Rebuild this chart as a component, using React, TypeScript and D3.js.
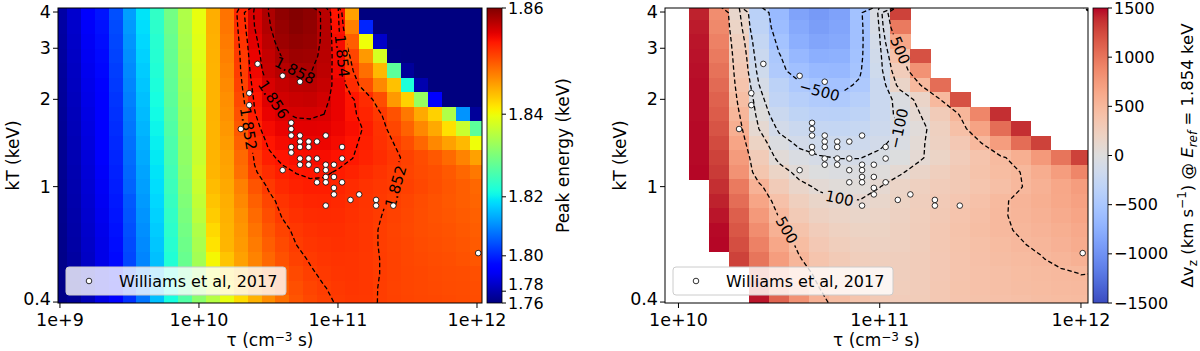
import * as d3 from 'd3'

// model grid: log10(tau / cm^-3 s) columns, log10(kT / keV) rows (top row first)
const logTau = [
  9.0, 9.1, 9.2, 9.3, 9.4, 9.5, 9.6, 9.7, 9.8, 9.9, 10.0, 10.1, 10.2, 10.3, 10.4, 10.5,
  10.6, 10.7, 10.8, 10.9, 11.0, 11.1, 11.2, 11.3, 11.4, 11.5, 11.6, 11.7, 11.8, 11.9, 12.0,
]
const logKT = [
  0.6, 0.55, 0.5, 0.45, 0.4, 0.35, 0.3, 0.25, 0.2, 0.15, 0.1, 0.05, 0, -0.05, -0.1, -0.15,
  -0.2, -0.25, -0.3, -0.35, -0.4,
]

// peak energy of the line in eV (1760 = at or below the bottom of the scale)
const peakEv = [
  [1778, 1786, 1793, 1798, 1805, 1813, 1819, 1824, 1830, 1835, 1839.5, 1845.2, 1848.8, 1853.2, 1856.2, 1858, 1859.3, 1859.8, 1859.4, 1857.5, 1854.3, 1846, 1760, 1760, 1760, 1760, 1760, 1760, 1760, 1760, 1760],
  [1777.5, 1785.5, 1792.5, 1797.5, 1804.5, 1812.5, 1818.5, 1823.5, 1829.5, 1834.8, 1839.3, 1845.1, 1848.6, 1852.9, 1856, 1857.8, 1859, 1859.6, 1859.2, 1857.6, 1854.5, 1848, 1800, 1760, 1760, 1760, 1760, 1760, 1760, 1760, 1760],
  [1777, 1785, 1792, 1797, 1804, 1812, 1818, 1823, 1829, 1834.5, 1839, 1845, 1848.3, 1852.5, 1855.6, 1857.4, 1858.7, 1859.2, 1859, 1857.6, 1854.7, 1850, 1840, 1785, 1760, 1760, 1760, 1760, 1760, 1760, 1760],
  [1776.5, 1784.5, 1791.5, 1796.5, 1803.5, 1811.5, 1817.5, 1822.8, 1828.8, 1834.3, 1838.8, 1844.95, 1848, 1852.2, 1855.3, 1857, 1858.1, 1858.7, 1858.6, 1857.5, 1854.9, 1851.5, 1846.5, 1838, 1765, 1760, 1760, 1760, 1760, 1760, 1760],
  [1776, 1784, 1791, 1796, 1803, 1811, 1817, 1822.5, 1828.5, 1834, 1838.5, 1844.9, 1847.7, 1852, 1855, 1856.8, 1857.6, 1858.05, 1858.1, 1857.3, 1855, 1852.3, 1849, 1844.5, 1828, 1775, 1760, 1760, 1760, 1760, 1760],
  [1775.5, 1783.5, 1790.5, 1795.5, 1802.5, 1810.5, 1816.5, 1822, 1828.2, 1833.8, 1838.3, 1844.85, 1847.4, 1851.7, 1854.6, 1856.1, 1856.9, 1857.35, 1857.45, 1856.9, 1855.3, 1853, 1851, 1847.5, 1844, 1822, 1780, 1760, 1760, 1760, 1760],
  [1775, 1783, 1790, 1795, 1802, 1810, 1816, 1821.5, 1828, 1833.5, 1838, 1844.85, 1847.1, 1851.3, 1854.2, 1855.8, 1856.4, 1856.75, 1856.85, 1856.4, 1855.3, 1854.2, 1853, 1851, 1846.5, 1843, 1833, 1795, 1760, 1760, 1760],
  [1774.5, 1782.5, 1789.5, 1794.5, 1801.5, 1809.5, 1815.5, 1821, 1827.5, 1833.2, 1837.7, 1844.85, 1846.9, 1850.8, 1853.9, 1855.3, 1855.9, 1856.15, 1856.2, 1856, 1855.3, 1854.3, 1853.4, 1852.2, 1850.8, 1848.5, 1845.5, 1843, 1835, 1812, 1775],
  [1774, 1782, 1789, 1794, 1801, 1809, 1815, 1820.5, 1827, 1833, 1837.5, 1844.8, 1846.6, 1850.4, 1853.4, 1854.8, 1855.3, 1855.55, 1855.6, 1855.5, 1855.1, 1854.6, 1853.8, 1852.6, 1851.4, 1849.8, 1847.5, 1845.5, 1842, 1837, 1828],
  [1773.5, 1781.5, 1788.5, 1793.5, 1800.5, 1808.5, 1814.5, 1820, 1826.5, 1832.7, 1837.3, 1844.8, 1846.3, 1849.9, 1852.8, 1854.2, 1854.8, 1855, 1855.1, 1855.1, 1854.8, 1854.3, 1853.6, 1852.7, 1852, 1851, 1849.5, 1847.5, 1846, 1844.5, 1840],
  [1773, 1781, 1788, 1793, 1800, 1808, 1814, 1819.5, 1826, 1832.5, 1837, 1844.8, 1846, 1849.4, 1852.2, 1853.7, 1854.3, 1854.55, 1854.65, 1854.65, 1854.4, 1854.05, 1853.5, 1852.9, 1852.3, 1851.7, 1851.1, 1850.4, 1849.3, 1847.8, 1846],
  [1772.5, 1780.5, 1787.5, 1792.5, 1799.5, 1807.5, 1813.5, 1819, 1825.5, 1832, 1837.5, 1844.75, 1845.8, 1849, 1851.8, 1852.9, 1853.7, 1854.05, 1854.2, 1854.15, 1853.9, 1853.5, 1853, 1852.5, 1852.05, 1851.6, 1851.2, 1850.9, 1850.3, 1849.5, 1848.5],
  [1772, 1780, 1787, 1792, 1799, 1807, 1813, 1818.5, 1825, 1831.5, 1837, 1844.3, 1845.5, 1848, 1850.6, 1852.2, 1853.1, 1853.55, 1853.75, 1853.75, 1853.4, 1852.95, 1852.6, 1852.3, 1852.05, 1851.75, 1851.35, 1850.95, 1850.5, 1850, 1849.5],
  [1771.5, 1779.5, 1786.5, 1791.5, 1798.5, 1806, 1812.5, 1818, 1824.5, 1831, 1836.5, 1843.8, 1845.2, 1847.5, 1849.9, 1851.5, 1852.5, 1853.05, 1853.3, 1853.35, 1853.15, 1852.8, 1852.45, 1852.15, 1851.85, 1851.5, 1851.05, 1850.7, 1850.4, 1850.05, 1849.7],
  [1771, 1779, 1786, 1791, 1798, 1805.5, 1812, 1817.5, 1824, 1830.5, 1836, 1843.3, 1845, 1847, 1849.3, 1851, 1852.1, 1852.7, 1852.95, 1853.05, 1852.95, 1852.7, 1852.4, 1852.05, 1851.7, 1851.35, 1851, 1850.75, 1850.5, 1850.2, 1849.9],
  [1770.5, 1778.5, 1785.5, 1790.5, 1797.5, 1805, 1811.5, 1817, 1823.5, 1830, 1835, 1842.5, 1844.8, 1846.7, 1848.8, 1850.5, 1851.6, 1852.3, 1852.65, 1852.8, 1852.8, 1852.6, 1852.35, 1851.95, 1851.6, 1851.3, 1851, 1850.85, 1850.65, 1850.4, 1850.1],
  [1770, 1778, 1785, 1790, 1797, 1804.5, 1811, 1816.5, 1823, 1829.5, 1834.5, 1841.8, 1844.75, 1846.4, 1848.3, 1850, 1851.2, 1852, 1852.4, 1852.6, 1852.7, 1852.6, 1852.35, 1851.95, 1851.65, 1851.4, 1851.15, 1850.95, 1850.8, 1850.55, 1850.25],
  [1769.5, 1777, 1784.5, 1790, 1796.5, 1804, 1810.5, 1816, 1822.5, 1829, 1834, 1840.5, 1843.8, 1846, 1847.8, 1849.5, 1850.8, 1851.7, 1852.1, 1852.4, 1852.5, 1852.45, 1852.3, 1852, 1851.7, 1851.45, 1851.25, 1851.1, 1850.95, 1850.75, 1850.5],
  [1769, 1776.5, 1784, 1789.5, 1796, 1803.5, 1810, 1815.5, 1822, 1828.5, 1833.5, 1839.5, 1842.5, 1844.5, 1847.2, 1849, 1850.3, 1851.25, 1851.85, 1852.2, 1852.4, 1852.45, 1852.3, 1852, 1851.7, 1851.5, 1851.35, 1851.2, 1851.1, 1851, 1850.9],
  [1768.5, 1775.5, 1783, 1789.5, 1795.5, 1802.5, 1809.5, 1815.5, 1821.7, 1828, 1833, 1838, 1841.5, 1844, 1846.6, 1848.5, 1849.9, 1850.9, 1851.55, 1851.95, 1852.25, 1852.4, 1852.3, 1851.95, 1851.65, 1851.5, 1851.35, 1851.25, 1851.15, 1851.05, 1851],
  [1768, 1774, 1782, 1789.5, 1795.5, 1801.5, 1809, 1816, 1821.5, 1827, 1832, 1835.5, 1839.5, 1842.3, 1845, 1847.2, 1849, 1850.6, 1851.3, 1851.75, 1852.1, 1852.3, 1852.25, 1851.95, 1851.7, 1851.55, 1851.45, 1851.35, 1851.25, 1851.15, 1851.1],
]

// Williams et al, 2017 remnants
const williamsTau = [
  2.64e10, 4.0e10, 5.33e10, 2.3e10, 2.3e10, 2.0e10, 4.61e10, 4.61e10, 4.61e10, 5.33e10, 5.33e10,
  6.15e10, 7.06e10, 8.17e10, 4.61e10, 5.33e10, 6.15e10, 4.61e10, 1.07e11, 5.33e10, 6.15e10,
  7.06e10, 1.07e11, 5.33e10, 6.15e10, 8.17e10, 9.35e10, 4.0e10, 7.06e10, 8.17e10, 8.17e10,
  9.35e10, 7.06e10, 8.17e10, 1.07e11, 9.35e10, 9.35e10, 1.42e11, 1.23e11, 1.88e11, 1.88e11,
  2.5e11, 8.17e10, 1.02e12,
]
const williamsKT = [
  2.65, 2.41, 2.3, 2.1, 1.91, 1.58, 1.66, 1.58, 1.5, 1.5, 1.43, 1.43, 1.43, 1.5, 1.37, 1.37,
  1.37, 1.31, 1.37, 1.25, 1.25, 1.25, 1.25, 1.19, 1.19, 1.19, 1.19, 1.14, 1.14, 1.14, 1.08,
  1.08, 1.035, 1.035, 1.035, 0.99, 0.94, 0.94, 0.9, 0.9, 0.86, 0.86, 0.86, 0.59,
]

const refEnergy = 1.854
const energyLevels = [1.852, 1.854, 1.856, 1.858]
const velocityLevels = [-500, -100, 100, 500]

const energyLabelLevel = [1.858, 1.856, 1.854, 1.852, 1.852]
const energyLabelTau = [4.67e10, 3.7e10, 1.07e11, 2.25e10, 2.7e11]
const energyLabelKT = [2.58, 1.94, 2.89, 1.53, 1.03]

const velocityLabelLevel = [-500, -100, 100, 500, 500]
const velocityLabelTau = [5.25e10, 1.32e11, 5.69e10, 1.24e11, 3.47e10]
const velocityLabelKT = [2.12, 1.66, 0.9, 2.96, 0.68]

const tauTicksLeft = [1e9, 1e10, 1e11, 1e12]
const tauTicksRight = [1e10, 1e11, 1e12]
const kTTicks = [0.4, 1, 2, 3, 4]
const energyTicks = [1.76, 1.78, 1.8, 1.82, 1.84, 1.86]
const velocityTicks = [-1500, -1000, -500, 0, 500, 1000, 1500]

const coolwarmStops = [
  '#3b4cc0', '#445acc', '#4d68d7', '#5775e1', '#6282ea', '#6c8ef1', '#779af7', '#82a5fb',
  '#8db0fe', '#98b9ff', '#a3c2ff', '#aec9fd', '#b8d0f9', '#c2d5f4', '#ccd9ee', '#d5dbe6',
  '#dddddd', '#e5d8d1', '#ecd3c5', '#f1ccb9', '#f5c4ad', '#f7bba0', '#f7b194', '#f7a687',
  '#f49a7b', '#f18d6f', '#ec7f63', '#e57058', '#de604d', '#d55042', '#cb3e38', '#c0282f',
  '#b40426',
]

const FONT = 'DejaVu Sans'
const TOP = 8
const BOTTOM = 303
const C_KMS = 299792.458
const E_MIN = 1.76
const E_MAX = 1.86
const V_MAX = 1500

const nx = logTau.length
const ny = logKT.length
const du = logTau[1] - logTau[0]
const dw = logKT[0] - logKT[1]

const energyGrid = peakEv.flat().map((v) => v / 1000)
const velocityGrid = energyGrid.map((e) => (C_KMS * (refEnergy - e)) / refEnergy)

const y = d3.scaleLog().domain([0.397, 4.13]).range([BOTTOM, TOP])
const xLeft = d3.scaleLog().domain([10 ** 8.986, 10 ** 12.036]).range([58, 482])
const xRight = d3.scaleLog().domain([10 ** 9.933, 10 ** 12.035]).range([665, 1088])

const jetR = d3.scaleLinear().domain([0, 0.35, 0.66, 0.89, 1]).range([0, 0, 1, 1, 0.5]).clamp(true)
const jetG = d3.scaleLinear().domain([0, 0.125, 0.375, 0.64, 0.91, 1]).range([0, 0, 1, 1, 0, 0]).clamp(true)
const jetB = d3.scaleLinear().domain([0, 0.11, 0.34, 0.65, 1]).range([0.5, 1, 1, 0, 0]).clamp(true)
const jet = (t: number) => d3.rgb(jetR(t) * 255, jetG(t) * 255, jetB(t) * 255).formatHex()
const powerNorm = (e: number) => Math.pow(Math.min(1, Math.max(0, (e - E_MIN) / (E_MAX - E_MIN))), 2)

const coolwarm = d3
  .scaleLinear<string>()
  .domain(coolwarmStops.map((_, i) => i / (coolwarmStops.length - 1)))
  .range(coolwarmStops)
  .interpolate(d3.interpolateRgb)
  .clamp(true)
const velocityNorm = d3.scaleLinear().domain([-V_MAX, V_MAX]).range([0, 1])

const charW: Record<string, number> = {
  '0': 0.636, '1': 0.636, '2': 0.636, '3': 0.636, '4': 0.636, '5': 0.636, '6': 0.636,
  '7': 0.636, '8': 0.636, '9': 0.636, '.': 0.318, '\u2212': 0.838,
}
const textWidth = (s: string, size: number) => [...s].reduce((a, ch) => a + (charW[ch] ?? 0.6), 0) * size

const minus = (v: number) => (v < 0 ? '\u2212' + Math.abs(v) : String(v))

type Pt = [number, number]

function toPixel(x: any, c: number, r: number): Pt {
  return [x(10 ** (logTau[0] + (c - 0.5) * du)), y(10 ** (logKT[0] - (r - 0.5) * dw))]
}

function buildContours(grid: number[], levels: number[], x: any) {
  return d3
    .contours()
    .size([nx, ny])
    .thresholds(levels)(grid)
    .map((c) => ({
      value: c.value,
      rings: c.coordinates.flatMap((poly) =>
        poly.map((ring) => ring.map(([cc, rr]) => toPixel(x, cc, rr)))
      ) as Pt[][],
    }))
}

function labelSpot(rings: Pt[][], px: number, py: number) {
  let best: Pt[] = rings[0]
  let bi = 0
  let bd = Infinity
  rings.forEach((ring) =>
    ring.forEach((p, i) => {
      const d = (p[0] - px) ** 2 + (p[1] - py) ** 2
      if (d < bd) {
        bd = d
        best = ring
        bi = i
      }
    })
  )
  const n = best.length
  const walk = (dir: number) => {
    let k = bi
    let dist = 0
    for (let s = 0; s < n && dist < 9; s++) {
      const nk = (k + dir + n) % n
      dist += Math.hypot(best[nk][0] - best[k][0], best[nk][1] - best[k][1])
      k = nk
    }
    return best[k]
  }
  const a = walk(-1)
  const b = walk(1)
  let ang = (Math.atan2(b[1] - a[1], b[0] - a[0]) * 180) / Math.PI
  if (ang > 90) ang -= 180
  if (ang < -90) ang += 180
  return { x: best[bi][0], y: best[bi][1], ang }
}

function cellRects(x: any, colorOf: (k: number) => string | null) {
  const out: any[] = []
  for (let j = 0; j < ny; j++) {
    for (let i = 0; i < nx; i++) {
      const k = j * nx + i
      const fill = colorOf(k)
      if (!fill) continue
      const xa = x(10 ** (logTau[i] - du / 2))
      const xb = x(10 ** (logTau[i] + du / 2))
      const ya = y(10 ** (logKT[j] + dw / 2))
      const yb = y(10 ** (logKT[j] - dw / 2))
      out.push(<rect key={k} x={xa} y={ya} width={xb - xa + 0.6} height={yb - ya + 0.6} fill={fill} />)
    }
  }
  return out
}

// keep stacked colorbar labels from running into each other (bottom label stays on its tick)
function spreadLabels(ys: number[], gap: number) {
  const out = ys.slice()
  for (let i = 1; i < out.length; i++) out[i] = Math.min(out[i], out[i - 1] - gap)
  return out
}

function Panel(props: any) {
  const { id, x, tauTicks, cells, contours, labels } = props
  const [x0, x1] = x.range()
  const labelSize = 15
  return (
    <g>
      <defs>
        <clipPath id={`clip-${id}`}>
          <rect x={x0} y={TOP} width={x1 - x0} height={BOTTOM - TOP} />
        </clipPath>
        <mask id={`mask-${id}`} maskUnits="userSpaceOnUse" x={0} y={0} width={1200} height={351}>
          <rect x={0} y={0} width={1200} height={351} fill="#fff" />
          {labels.map((l: any, i: number) => {
            const w = textWidth(l.text, labelSize) + 6
            return (
              <rect
                key={i}
                x={-w / 2}
                y={-7}
                width={w}
                height={14}
                fill="#000"
                transform={`translate(${l.x},${l.y}) rotate(${l.ang})`}
              />
            )
          })}
        </mask>
      </defs>
      <g clipPath={`url(#clip-${id})`} shapeRendering="crispEdges">
        {cells}
      </g>
      <g clipPath={`url(#clip-${id})`}>
        <g mask={`url(#mask-${id})`}>
          {contours.map((c: any, i: number) => (
            <path
              key={i}
              d={c.rings.map((r: Pt[]) => 'M' + r.map((p) => p.join(',')).join('L') + 'Z').join('')}
              fill="none"
              stroke="#000"
              strokeWidth={1.3}
              strokeDasharray="4.5 2.6"
            />
          ))}
        </g>
      </g>
      {labels.map((l: any, i: number) => (
        <text
          key={i}
          transform={`translate(${l.x},${l.y}) rotate(${l.ang})`}
          textAnchor="middle"
          dominantBaseline="central"
          fontSize={labelSize}
          fill="#000"
        >
          {l.text}
        </text>
      ))}
      {williamsTau.map((t, i) => (
        <circle key={i} cx={x(t)} cy={y(williamsKT[i])} r={2.8} fill="#fff" stroke="#000" strokeWidth={0.8} />
      ))}
      <g>
        <rect
          x={x0 + 8}
          y={BOTTOM - 36}
          width={220}
          height={28}
          rx={3}
          fill="#fff"
          fillOpacity={0.8}
          stroke="#ccc"
          strokeWidth={1}
        />
        <circle cx={x0 + 31} cy={BOTTOM - 22} r={2.8} fill="#fff" stroke="#000" strokeWidth={0.8} />
        <text x={x0 + 61} y={BOTTOM - 22} dominantBaseline="central" fontSize={16}>
          Williams et al, 2017
        </text>
      </g>
      <rect x={x0} y={TOP} width={x1 - x0} height={BOTTOM - TOP} fill="none" stroke="#000" strokeWidth={1} />
      {tauTicks.map((t: number) => (
        <g key={t}>
          <line x1={x(t)} x2={x(t)} y1={BOTTOM} y2={BOTTOM + 5} stroke="#000" />
          <text x={x(t)} y={BOTTOM + 22.5} textAnchor="middle" fontSize={17.5}>
            {'1e+' + Math.round(Math.log10(t))}
          </text>
        </g>
      ))}
      {kTTicks.map((k, i) => (
        <g key={k}>
          <line x1={x0 - 5} x2={x0} y1={y(k)} y2={y(k)} stroke="#000" />
          <text
            x={x0 - 7}
            y={i === 0 ? y(k) - 3.5 : y(k)}
            textAnchor="end"
            dominantBaseline="central"
            fontSize={17.5}
          >
            {String(k)}
          </text>
        </g>
      ))}
      <text x={(x0 + x1) / 2} y={346} textAnchor="middle" fontSize={17}>
        τ (cm<tspan dy={-5} fontSize={12}>−3</tspan>
        <tspan dy={5}> s)</tspan>
      </text>
      <text transform={`translate(${x0 - 39},155.5) rotate(-90)`} textAnchor="middle" fontSize={17}>
        kT (keV)
      </text>
    </g>
  )
}

export default function App() {
  const leftContours = buildContours(energyGrid, energyLevels, xLeft)
  const rightContours = buildContours(velocityGrid, velocityLevels, xRight)

  const leftLabels = energyLabelLevel.map((lv, i) => {
    const c = leftContours.find((cc) => Math.abs(cc.value - lv) < 1e-9)!
    const spot = labelSpot(c.rings, xLeft(energyLabelTau[i]), y(energyLabelKT[i]))
    return { ...spot, text: d3.format('.3f')(lv) }
  })
  const rightLabels = velocityLabelLevel.map((lv, i) => {
    const c = rightContours.find((cc) => cc.value === lv)!
    const spot = labelSpot(c.rings, xRight(velocityLabelTau[i]), y(velocityLabelKT[i]))
    return { ...spot, text: minus(lv) }
  })

  const leftCells = cellRects(xLeft, (k) => jet(powerNorm(energyGrid[k])))
  const rightCells = cellRects(xRight, (k) => {
    const v = velocityGrid[k]
    if (v > V_MAX || v < -V_MAX) return null
    return coolwarm(velocityNorm(v))
  })

  const cbTop = TOP
  const cbBottom = BOTTOM
  const cbEnergy = (e: number) => cbBottom - powerNorm(e) * (cbBottom - cbTop)
  const cbVelocity = d3.scaleLinear().domain([-V_MAX, V_MAX]).range([cbBottom, cbTop])
  const energyLabelY = spreadLabels(energyTicks.map(cbEnergy), 18.5)
  const gradSteps = d3.range(0, 1.0001, 1 / 60)

  return (
    <svg
      width={1200}
      height={351}
      viewBox="0 0 1200 351"
      style={{ position: 'absolute', left: 0, top: 0, background: '#fff' }}
      fontFamily={FONT}
    >
      <defs>
        <linearGradient id="jetGrad" x1="0" y1="1" x2="0" y2="0">
          {gradSteps.map((t) => (
            <stop key={t} offset={t} stopColor={jet(t)} />
          ))}
        </linearGradient>
        <linearGradient id="cwGrad" x1="0" y1="1" x2="0" y2="0">
          {gradSteps.map((t) => (
            <stop key={t} offset={t} stopColor={coolwarm(t)} />
          ))}
        </linearGradient>
      </defs>
      <rect x={0} y={0} width={1200} height={351} fill="#fff" />

      <Panel id="left" x={xLeft} tauTicks={tauTicksLeft} cells={leftCells} contours={leftContours} labels={leftLabels} />
      <Panel id="right" x={xRight} tauTicks={tauTicksRight} cells={rightCells} contours={rightContours} labels={rightLabels} />

      {/* energy colorbar */}
      <rect x={487} y={cbTop} width={15} height={cbBottom - cbTop} fill="url(#jetGrad)" stroke="#000" strokeWidth={0.8} />
      {energyTicks.map((e, i) => (
        <g key={e}>
          <line x1={502} x2={506} y1={cbEnergy(e)} y2={cbEnergy(e)} stroke="#000" />
          <text x={508} y={energyLabelY[i]} dominantBaseline="central" fontSize={16}>
            {d3.format('.2f')(e)}
          </text>
        </g>
      ))}
      <text transform="translate(569,155.5) rotate(-90)" textAnchor="middle" fontSize={17}>
        Peak energy (keV)
      </text>

      {/* velocity colorbar */}
      <rect x={1093} y={cbTop} width={15} height={cbBottom - cbTop} fill="url(#cwGrad)" stroke="#000" strokeWidth={0.8} />
      {velocityTicks.map((v) => (
        <g key={v}>
          <line x1={1108} x2={1112} y1={cbVelocity(v)} y2={cbVelocity(v)} stroke="#000" />
          <text x={1114} y={cbVelocity(v)} dominantBaseline="central" fontSize={16}>
            {minus(v)}
          </text>
        </g>
      ))}
      <text transform="translate(1193,155.5) rotate(-90)" textAnchor="middle" fontSize={16.5}>
        Δv<tspan dy={4} fontSize={12}>z</tspan>
        <tspan dy={-4}> (km s</tspan>
        <tspan dy={-7} fontSize={12}>−1</tspan>
        <tspan dy={7}>) @ </tspan>
        <tspan fontStyle="italic">E</tspan>
        <tspan dy={4} fontSize={12} fontStyle="italic">ref</tspan>
        <tspan dy={-4}> = 1.854 keV</tspan>
      </text>
    </svg>
  )
}
